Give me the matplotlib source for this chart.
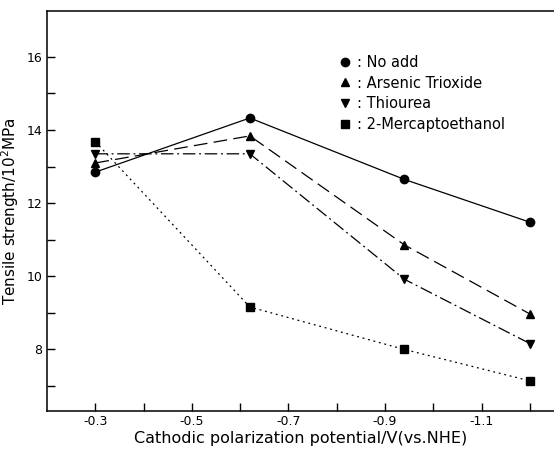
import matplotlib.pyplot as plt
from matplotlib.ticker import FixedLocator

# Data
potential = [-0.30, -0.62, -0.94, -1.20]
no_add = [12.85, 14.33, 12.65, 11.48]
arsenic = [13.1, 13.84, 10.86, 8.97]
thiourea = [13.35, 13.35, 9.92, 8.16]
mercapto = [13.68, 9.16, 8.0, 7.14]

labels = [": No add", ": Arsenic Trioxide", ": Thiourea", ": 2-Mercaptoethanol"]

fig = plt.figure(figsize=(5.54, 4.49), dpi=100)
ax = fig.add_axes([0.085, 0.085, 0.915, 0.89])

lw = 0.9
ax.plot(potential, no_add, color="black", lw=lw, ls="-", marker="o", ms=6, label=labels[0])
ax.plot(potential, arsenic, color="black", lw=lw, ls=(0, (11, 5)), marker="^", ms=6, label=labels[1])
ax.plot(potential, thiourea, color="black", lw=lw, ls=(0, (10, 3, 1.5, 3)), marker="v", ms=6, label=labels[2])
ax.plot(potential, mercapto, color="black", lw=lw, ls=(0, (1.5, 3)), marker="s", ms=5.5, label=labels[3])

ax.set_xlim(-0.2, -1.25)
ax.set_ylim(6.32, 17.25)

ax.xaxis.set_major_locator(FixedLocator([-0.3, -0.5, -0.7, -0.9, -1.1]))
ax.xaxis.set_minor_locator(FixedLocator([-0.4, -0.6, -0.8, -1.0, -1.2]))
ax.yaxis.set_major_locator(FixedLocator([8, 10, 12, 14, 16]))
ax.yaxis.set_minor_locator(FixedLocator([7, 9, 11, 13, 15]))
ax.set_xticklabels(["-0.3", "-0.5", "-0.7", "-0.9", "-1.1"])
ax.set_yticklabels(["8", "10", "12", "14", "16"])

ax.tick_params(which="both", direction="in", length=6, width=1, labelsize=9)
ax.tick_params(axis="x", pad=3)
ax.spines["right"].set_visible(False)
for s in ["left", "bottom", "top"]:
    ax.spines[s].set_linewidth(1.1)

ax.set_xlabel("Cathodic polarization potential/V(vs.NHE)", fontsize=11.5, labelpad=2)
ax.set_ylabel("Tensile strength/10$^2$MPa", fontsize=11, labelpad=4)

leg = ax.legend(loc="upper left", bbox_to_anchor=(0.565, 0.905), frameon=False,
                fontsize=10.5, handlelength=0.8, handletextpad=0.4, labelspacing=0.38,
                borderaxespad=0)
for h in leg.legend_handles:
    h.set_linestyle("none")

fig.savefig("out.png", dpi=100)
